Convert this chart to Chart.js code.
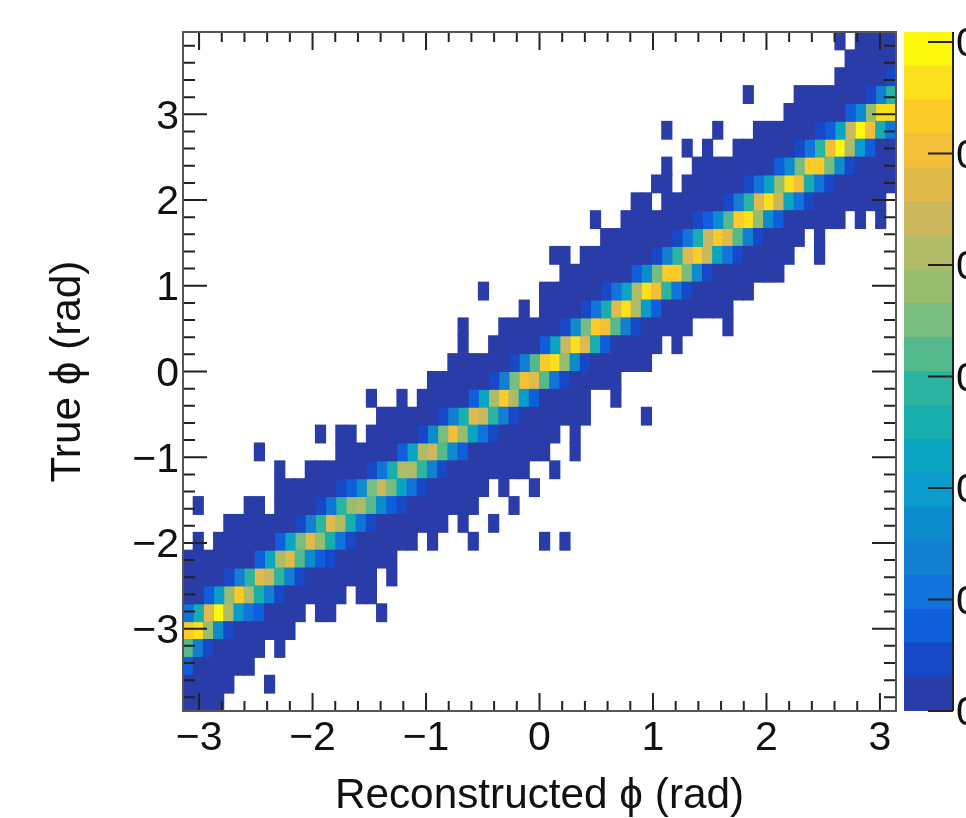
<!DOCTYPE html>
<html>
<head>
<meta charset="utf-8">
<style>
  html, body { margin: 0; padding: 0; background: #fff; overflow: hidden; }
  #wrap { position: relative; width: 966px; height: 818px; overflow: hidden; }
  canvas { position: absolute; top: 0; filter: blur(0.6px); }
  #hist { left: 0; }
  #palette { left: 904px; }
</style>
<script src="https://cdn.jsdelivr.net/npm/chart.js@4"></script>
</head>
<body>
<div id="wrap">
  <canvas id="hist" width="900" height="818"></canvas>
  <canvas id="palette" width="62" height="818"></canvas>
</div>
<script>
// Binning of the histogram
const xBins = 70, yBins = 38;
const xMin = -Math.PI, xMax = Math.PI;
const yMin = -3.96, yMax = 3.96;

const xTicks = [-3, -2, -1, 0, 1, 2, 3];
const yTicks = [-3, -2, -1, 0, 1, 2, 3];
const xMinorTicks = [-2.8, -2.6, -2.4, -2.2, -1.8, -1.6, -1.4, -1.2, -0.8, -0.6, -0.4, -0.2, 0.2, 0.4, 0.6, 0.8, 1.2, 1.4, 1.6, 1.8, 2.2, 2.4, 2.6, 2.8];
const yMinorTicks = [-3.8, -3.6, -3.4, -3.2, -2.8, -2.6, -2.4, -2.2, -1.8, -1.6, -1.4, -1.2, -0.8, -0.6, -0.4, -0.2, 0.2, 0.4, 0.6, 0.8, 1.2, 1.4, 1.6, 1.8, 2.2, 2.4, 2.6, 2.8, 3.2, 3.4, 3.6, 3.8];
const zTicks = [0, 0.02, 0.04, 0.06, 0.08, 0.1, 0.12];
const zMax = 0.1218;

// Palette, lowest contour level first
const levelColors = ['#2a3ca8', '#1648c8', '#0f5fdc', '#1173dc', '#127fd2', '#0c8ccd', '#099ccc', '#0aa5c0',
                     '#18aead', '#2bb5a0', '#55b98e', '#78bc80', '#97bd6e', '#b0bb68', '#ccb85c', '#e0bb4c',
                     '#f4bf38', '#fdcb28', '#fde01c', '#fcf80d'];

// Per row (top row first): occupied column ranges at the lowest level
const lowSpans = [
  [[64,64],[66,69]],
  [[65,69]],
  [[64,69]],
  [[55,55],[60,69]],
  [[59,69]],
  [[47,47],[52,52],[56,69]],
  [[49,49],[51,51],[54,69]],
  [[47,47],[50,69]],
  [[46,47],[49,69]],
  [[44,45],[47,68]],
  [[40,40],[43,64],[66,66],[68,68]],
  [[41,60],[62,62]],
  [[36,37],[39,59],[62,62]],
  [[37,58]],
  [[29,29],[35,55]],
  [[33,33],[35,53]],
  [[27,27],[31,49],[53,53]],
  [[27,27],[30,46],[48,48]],
  [[26,45]],
  [[24,42]],
  [[18,18],[21,21],[23,39],[42,42]],
  [[19,39],[45,45]],
  [[13,13],[15,16],[18,36],[38,38]],
  [[7,7],[15,35],[38,38]],
  [[9,9],[12,33],[36,36]],
  [[9,29],[31,31],[34,34]],
  [[1,1],[6,7],[9,28],[32,32]],
  [[4,25],[27,27],[30,30]],
  [[1,1],[3,22],[24,24],[28,28],[35,35],[37,37]],
  [[0,20]],
  [[0,18],[20,20]],
  [[0,15],[17,18]],
  [[0,11],[13,14],[19,19]],
  [[0,10]],
  [[0,7],[9,9]],
  [[0,6]],
  [[0,4],[8,8]],
  [[0,3]]
];

// Per row: first column of the ridge and its contour levels
const ridgeStart = [0, 0, 69, 67, 65, 62, 60, 58, 55, 53, 50, 48, 46, 44, 41, 39, 37, 35, 32, 30, 28, 25, 23, 21, 18, 15, 13, 11, 9, 7, 4, 2, 0, 0, 0, 0, 0, 0];
const ridgeLevels = [
  [],
  [],
  [1],
  [1,4,9],
  [2,5,12,18,18],
  [1,2,7,14,19,16,8,3],
  [1,3,9,16,19,13,6,2],
  [2,5,11,17,17,11,5,1],
  [1,3,7,12,18,16,8,3,1],
  [1,4,9,15,18,14,7,3,1],
  [1,2,5,10,17,18,12,5,2],
  [1,3,8,14,17,15,10,4,1],
  [1,4,9,15,17,14,7,3,1],
  [2,5,11,17,17,11,5,1],
  [1,3,7,13,18,16,9,3,1],
  [1,3,8,15,18,13,6,2],
  [1,5,11,17,16,10,4,1],
  [2,7,14,18,15,8,2],
  [1,4,10,17,18,12,5,1],
  [1,4,11,16,15,10,3,1],
  [2,7,13,17,13,6,2],
  [1,4,8,15,14,9,4,1],
  [1,5,11,16,12,7,3,1],
  [2,7,13,14,10,5,2],
  [1,3,8,13,13,9,4,1],
  [1,2,5,11,14,11,7,3,1],
  [1,3,9,12,13,10,5,2,1],
  [1,4,9,15,13,8,3,1],
  [2,7,11,15,12,8,3,1],
  [2,7,13,15,10,5,2,1],
  [1,4,9,15,14,9,4,1],
  [2,6,12,17,13,8,4,1],
  [3,8,15,19,13,6,3,2],
  [17,18,12,5,1],
  [10,4,1],
  [2],
  [],
  []
];

// One dataset of floating bars per contour level
function histDatasets() {
  const xStep = (xMax - xMin) / xBins, yStep = (yMax - yMin) / yBins;
  const cells = levelColors.map(() => []);
  lowSpans.forEach((spans, r) => {
    const top = yMax - r * yStep;
    const row = {};
    spans.forEach(([a, b]) => { for (let c = a; c <= b; c++) row[c] = 0; });
    ridgeLevels[r].forEach((lv, i) => { row[ridgeStart[r] + i] = lv; });
    Object.keys(row).forEach(c => {
      cells[row[c]].push({ x: xMin + (+c + 0.5) * xStep, y: [top - yStep, top] });
    });
  });
  return cells.map((data, lv) => ({
    data, backgroundColor: levelColors[lv], grouped: false, barPercentage: 1, categoryPercentage: 1, inflateAmount: 0.5,
  }));
}

const labelFont = { family: '"Liberation Sans", Arial, sans-serif', size: 41 };
const titleFont = { family: '"Liberation Sans", Arial, sans-serif', size: 42.3 };
const inkColor = '#222';
const fmt = v => String(v).replace('-', '\u2212');

// Frame and inward pointing ticks on all four sides, ROOT style
const frameTicks = {
  id: 'frameTicks',
  afterDatasetsDraw(chart) {
    const { ctx, chartArea: a, scales: { x, y } } = chart;
    ctx.save();
    ctx.strokeStyle = inkColor;
    ctx.lineWidth = 2;
    ctx.beginPath();
    const vert = (v, len) => {
      const p = x.getPixelForValue(v);
      ctx.moveTo(p, a.bottom); ctx.lineTo(p, a.bottom - len);
      ctx.moveTo(p, a.top);    ctx.lineTo(p, a.top + len);
    };
    const horiz = (v, len) => {
      const p = y.getPixelForValue(v);
      ctx.moveTo(a.left, p);  ctx.lineTo(a.left + len, p);
      ctx.moveTo(a.right, p); ctx.lineTo(a.right - len, p);
    };
    xTicks.forEach(v => vert(v, 18));
    xMinorTicks.forEach(v => vert(v, 10));
    yTicks.forEach(v => horiz(v, 24));
    yMinorTicks.forEach(v => horiz(v, 12));
    ctx.stroke();
    ctx.strokeStyle = '#555';
    ctx.strokeRect(a.left, a.top, a.right - a.left, a.bottom - a.top);
    ctx.restore();
  }
};

new Chart(document.getElementById('hist'), {
  type: 'bar',
  data: { datasets: histDatasets() },
  plugins: [frameTicks],
  options: {
    responsive: false,
    animation: false,
    layout: { padding: { top: 32, right: 4, left: 0, bottom: 0 } },
    plugins: { legend: { display: false }, tooltip: { enabled: false } },
    scales: {
      x: {
        type: 'linear', min: xMin, max: xMax, offset: false,
        grid: { display: false, tickLength: 0 }, border: { display: false },
        afterBuildTicks: s => { s.ticks = xTicks.map(v => ({ value: v })); },
        afterFit: s => { s.height = 107; },
        ticks: { font: labelFont, color: '#111', padding: 3, maxRotation: 0, autoSkip: false, callback: fmt },
        title: { display: true, text: 'Reconstructed \u03d5 (rad)', font: titleFont, color: '#111', padding: { top: 0, bottom: -4 } },
      },
      y: {
        min: yMin, max: yMax,
        grid: { display: false, tickLength: 0 }, border: { display: false },
        afterBuildTicks: s => { s.ticks = yTicks.map(v => ({ value: v })); },
        afterFit: s => { s.width = 183; },
        ticks: { font: labelFont, color: '#111', padding: 4, labelOffset: 3, autoSkip: false, callback: fmt },
        title: { display: true, text: 'True \u03d5 (rad)', font: titleFont, color: '#111', padding: { top: 43, bottom: 0 } },
      },
    },
  },
});

// Colour scale
const paletteTicks = {
  id: 'paletteTicks',
  afterDatasetsDraw(chart) {
    const { ctx, chartArea: a, scales: { y } } = chart;
    ctx.save();
    ctx.strokeStyle = inkColor;
    ctx.lineWidth = 2;
    ctx.beginPath();
    zTicks.forEach(v => {
      const p = y.getPixelForValue(v);
      ctx.moveTo(a.right, p); ctx.lineTo(a.right - 25, p);
    });
    ctx.moveTo(a.right, a.top); ctx.lineTo(a.right, a.bottom);
    ctx.stroke();
    ctx.restore();
  }
};

new Chart(document.getElementById('palette'), {
  type: 'bar',
  data: {
    labels: ['z'],
    datasets: levelColors.map((c, lv) => ({
      data: [[lv * zMax / levelColors.length, (lv + 1) * zMax / levelColors.length]],
      backgroundColor: c, grouped: false, barPercentage: 1, categoryPercentage: 1, inflateAmount: 0.5,
    })),
  },
  plugins: [paletteTicks],
  options: {
    responsive: false,
    animation: false,
    layout: { padding: { top: 32, right: 0, left: 0, bottom: 107 } },
    plugins: { legend: { display: false }, tooltip: { enabled: false } },
    scales: {
      x: { display: false },
      y: {
        position: 'right', min: 0, max: zMax,
        grid: { display: false, tickLength: 0 }, border: { display: false },
        afterBuildTicks: s => { s.ticks = zTicks.map(v => ({ value: v })); },
        afterFit: s => { s.width = 13; },
        ticks: { font: labelFont, color: '#111', padding: 3, labelOffset: 3, autoSkip: false, callback: v => v.toFixed(2) },
      },
    },
  },
});
</script>
</body>
</html>
